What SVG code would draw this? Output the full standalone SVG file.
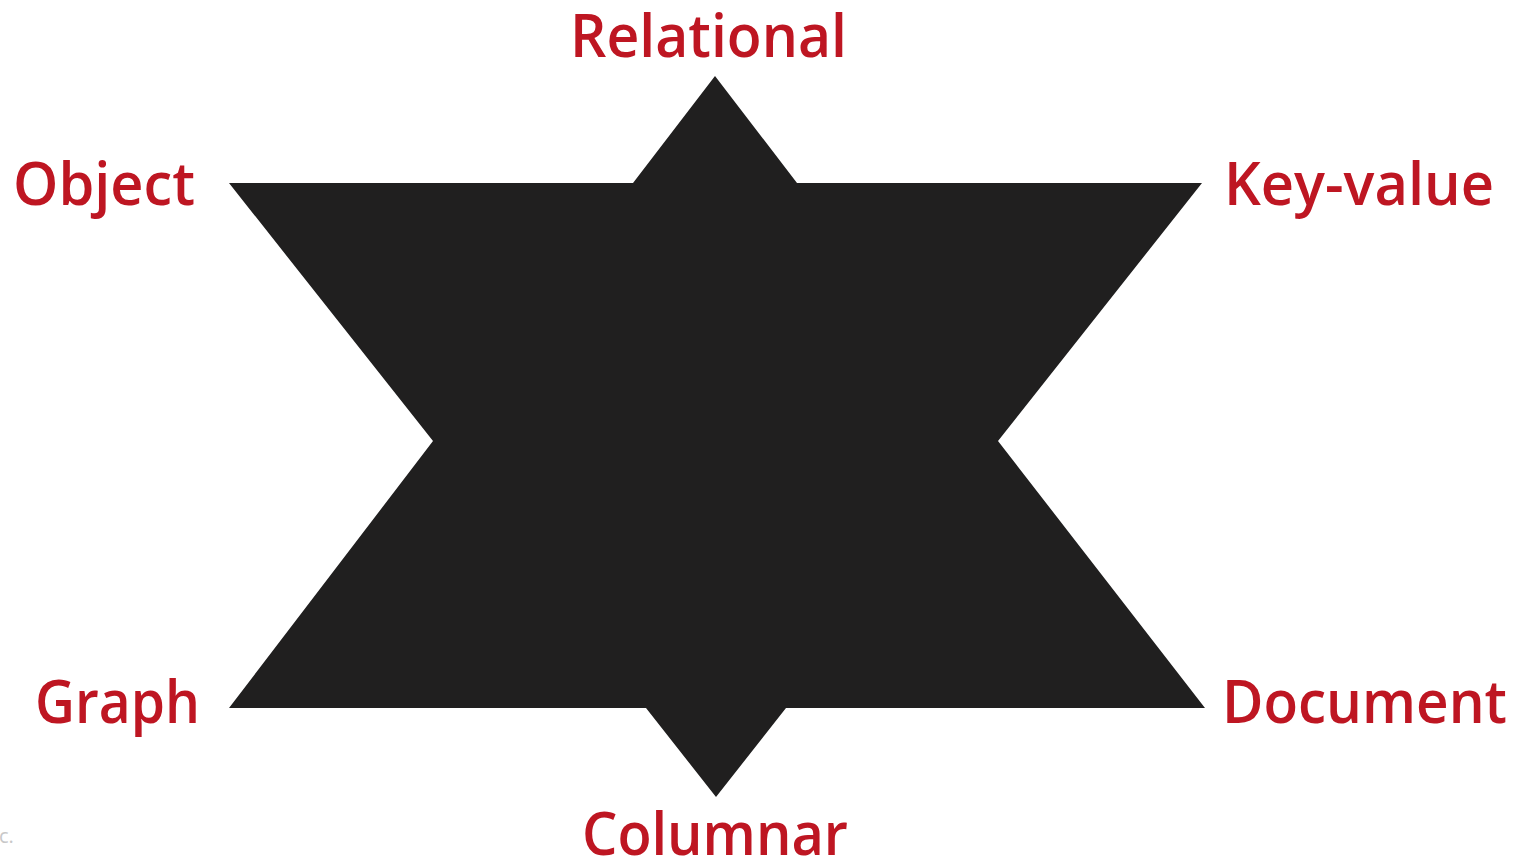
<svg xmlns="http://www.w3.org/2000/svg" width="1514" height="859" viewBox="0 0 1514 859">
<style>
.lbl{font-family:"Open Sans","Noto Sans","Liberation Sans",sans-serif;font-weight:600;font-size:60px;fill:#BE1622}
.note{font-family:"Open Sans","Liberation Sans",sans-serif;font-size:20px;fill:#c8c8c8}
</style>
<rect width="1514" height="859" fill="#ffffff"/>
<g id="star">
<polygon points="715,76 797,183 1202,183 998,441 1205,708 786,708 716,797 646,708 229,708 433,441 229,183 633,183" fill="#201F1F"/>
</g>
<g id="connectors"></g>
<g id="relational"><text class="lbl" x="570" y="57" textLength="277" lengthAdjust="spacingAndGlyphs">Relational</text></g>
<g id="object"><text class="lbl" x="13" y="205" textLength="182" lengthAdjust="spacingAndGlyphs">Object</text></g>
<g id="keyvalue"><text class="lbl" x="1224" y="205" textLength="270" lengthAdjust="spacingAndGlyphs">Key-value</text></g>
<g id="graph"><text class="lbl" x="35" y="723" textLength="165" lengthAdjust="spacingAndGlyphs">Graph</text></g>
<g id="document"><text class="lbl" x="1222" y="723" textLength="285" lengthAdjust="spacingAndGlyphs">Document</text></g>
<g id="columnar"><text class="lbl" x="582" y="855" textLength="266" lengthAdjust="spacingAndGlyphs">Columnar</text></g>
<text class="note" x="-1" y="843">c.</text>
</svg>
